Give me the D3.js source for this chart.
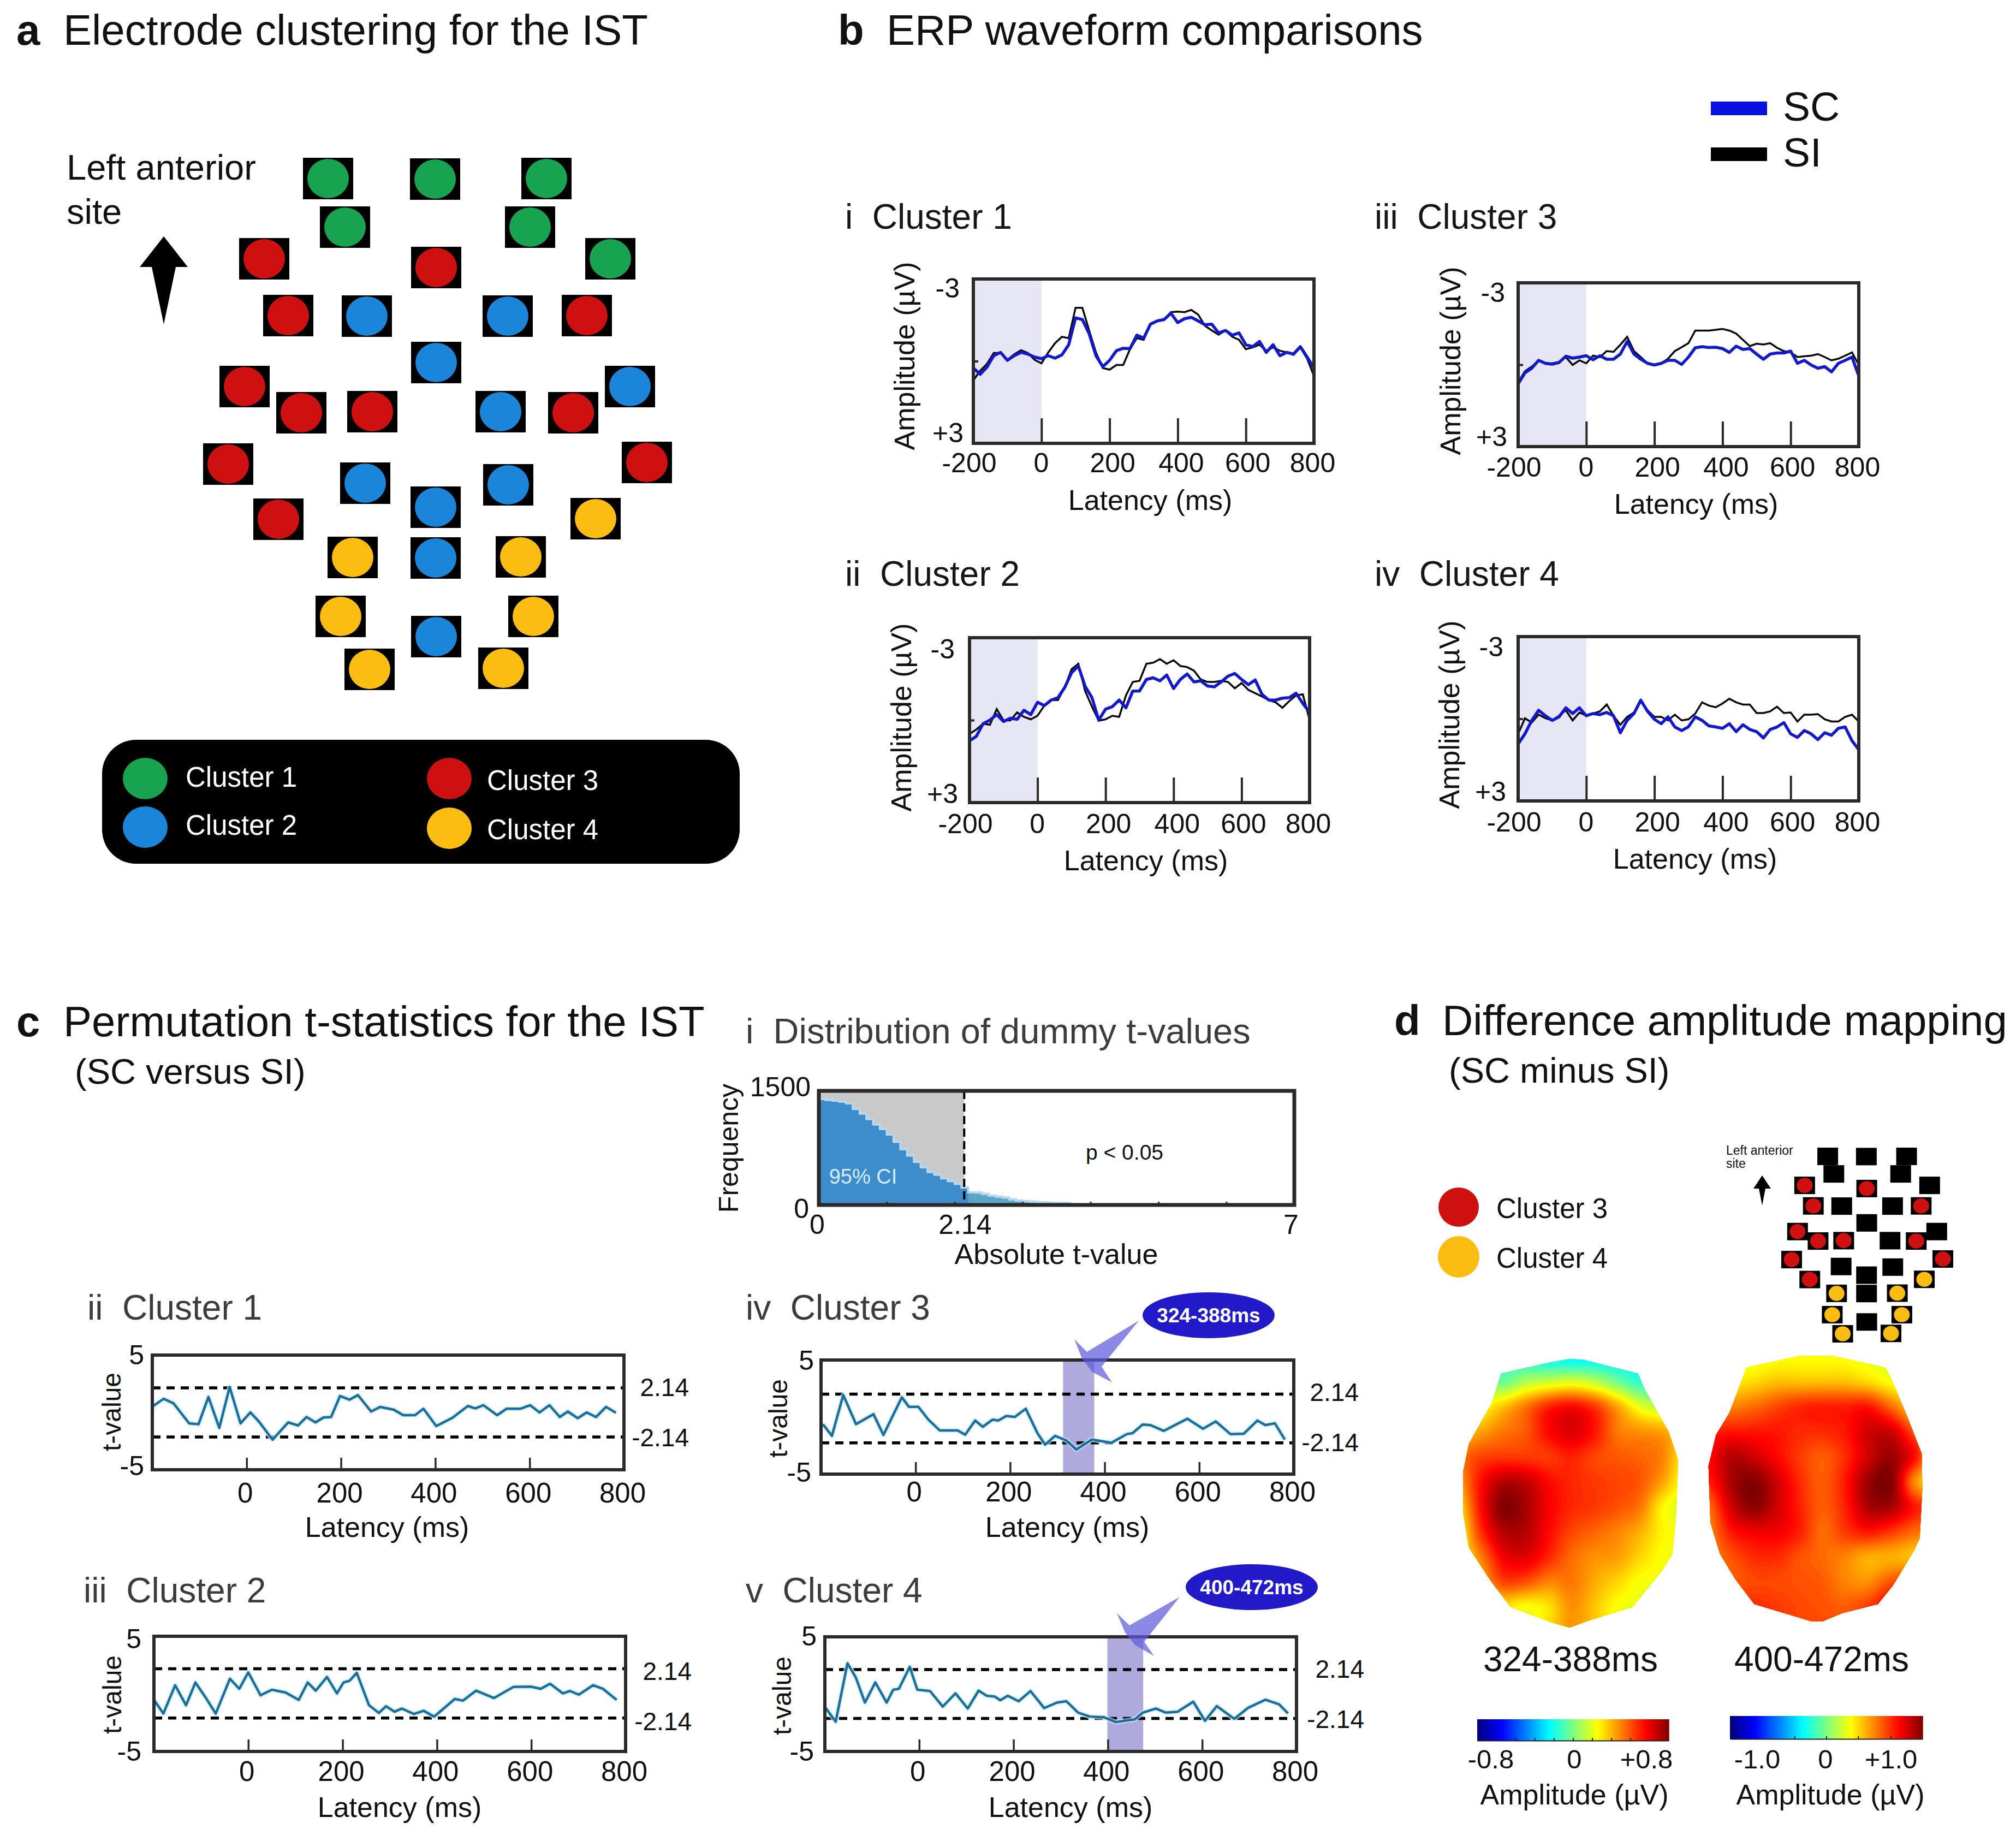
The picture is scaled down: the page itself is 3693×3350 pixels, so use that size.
<!DOCTYPE html>
<html><head><meta charset="utf-8">
<script src="https://cdn.jsdelivr.net/npm/d3@7"></script>
<style>html,body{margin:0;padding:0;background:#fff}svg{display:block}text{font-family:"Liberation Sans",Arial,sans-serif;white-space:pre}</style>
</head><body><svg id="c" width="3693" height="3350" viewBox="0 0 3693 3350"></svg>
<script>
// ---------- electrode sensor coordinates (arbitrary montage units) ----------
const cluster1X=[-198,-2,202,-167,172,319], cluster1Y=[0,1,0,89,89,147];
const cluster2X=[-127,131,0,355,118,-130,132,-1,-1,0], cluster2Y=[252,252,337,381,427,558,561,602,695,839];
const cluster3X=[-315,0,-271,276,-351,-247,-117,251,-381,386,-289], cluster3Y=[147,163,251,251,381,429,427,429,523,520,624];
const cluster4X=[292,-153,155,-175,178,-122,123], cluster4Y=[623,694,693,802,802,899,897];
const clusterColors=["#17a34f","#1b86d9","#cf1010","#fbbd12"];
const clusterNames=["Cluster 1","Cluster 2","Cluster 3","Cluster 4"];

// ---------- ERP waveforms, 20 ms grid, µV (negative up) ----------
const erpTimes=d3.range(-200,801,20);
const sc1=[.25,.48,.22,-.2,-.32,-.03,-.2,-.32,-.26,-.15,-.09,-.2,-.11,-.23,-.6,-1.58,-1.52,-1,-.2,.2,-.03,-.38,-.47,-.46,-.95,-.84,-1.35,-1.47,-1.52,-1.75,-1.41,-1.55,-1.6,-1.47,-1.33,-1.35,-1.03,-1.12,-.95,-1.03,-.6,-.53,-.72,-.32,-.6,-.2,-.32,-.26,-.53,-.15,.25];
const si1=[.7,.35,.1,-.3,-.3,-.05,-.25,-.4,-.3,-.05,.08,-.32,-.66,-.89,-.84,-1.95,-1.95,-1.12,-.32,.25,.31,.14,.14,-.44,-.84,-.78,-1.35,-1.47,-1.52,-1.79,-1.81,-1.79,-1.87,-1.7,-1.29,-1.12,-.97,-1.12,-.89,-.78,-.44,-.5,-.6,-.38,-.5,-.38,-.32,-.23,-.5,-.09,.54];
const sc2=[.75,.59,.13,0,-.2,.05,-.07,-.03,-.36,-.2,-.65,-.53,-.73,-.82,-1.19,-1.72,-1.97,-1.23,-.82,0,-.4,-.49,-.73,-.45,-1.06,-1.06,-1.48,-1.54,-1.43,-1.64,-1.15,-1.48,-1.68,-1.39,-1.43,-1.24,-1.21,-1.39,-1.6,-1.7,-1.48,-1.29,-1.46,-.94,-.73,-.73,-.8,-.82,-.98,-.61,-.28];
const si2=[.5,.34,.13,.17,-.4,.01,.01,-.28,-.12,-.03,-.16,-.53,-.73,-.73,-1.19,-1.85,-2.05,-1.06,-.49,.02,-.03,-.16,-.12,-.9,-1.39,-1.43,-2.05,-2.09,-2.22,-2.05,-2.18,-1.97,-1.93,-1.8,-1.48,-1.39,-1.39,-1.43,-1.39,-1.16,-1.35,-1.1,-.98,-.86,-.73,-.65,-.45,-.69,-.9,-.94,0];
const sc3=[.7,.3,.13,-.16,-.05,-.02,-.08,-.31,-.24,-.28,-.33,-.18,-.33,-.2,-.2,-.39,-.85,-.39,-.2,-.05,.01,-.05,-.16,-.16,-.01,-.28,-.62,-.66,-.63,-.64,-.59,-.45,-.68,-.56,-.59,-.39,-.2,-.39,-.43,-.43,-.5,-.05,-.16,.01,.13,.07,.26,-.05,-.16,-.28,.41];
const si3=[.64,.24,.07,-.16,-.05,-.05,-.1,-.28,.01,-.16,-.05,-.33,-.28,-.5,-.47,-.73,-1.02,-.5,-.28,-.05,.01,-.05,-.22,-.5,-.64,-.79,-1.25,-1.25,-1.25,-1.28,-1.31,-1.25,-1.14,-.91,-.68,-.77,-.74,-.79,-.62,-.5,-.45,-.28,-.31,-.33,-.39,-.28,-.16,-.22,-.33,-.45,.01];
const sc4=[.92,.55,.06,-.31,-.11,.06,-.07,-.4,-.19,-.4,-.11,-.19,-.15,-.23,-.11,.51,.06,-.19,-.68,-.27,.02,.18,-.07,.3,.43,.29,-.07,.06,.26,.3,.35,.18,.47,.22,.39,.47,.7,.39,.3,.14,.55,.68,.43,.55,.76,.51,.6,.35,.3,.8,1.13];
const si4=[.55,-.02,.14,-.15,-.02,.06,-.11,-.31,.06,-.23,-.11,-.19,-.27,-.52,-.11,.22,-.07,-.23,-.68,-.31,-.07,-.07,.06,-.15,.06,.02,-.19,-.6,-.48,-.42,-.56,-.73,-.6,-.52,-.52,-.21,-.21,-.27,-.44,-.21,-.23,.1,-.15,-.15,-.17,.02,.1,.1,-.07,-.15,.1];
const erpTickValues=[-200,0,200,400,600,800];

// ---------- dummy t-value histogram ----------
const histEdges=d3.range(0,38).map(i=>i/10);
const histCounts=[1380,1368,1356,1344,1320,1248,1188,1116,1044,984,912,816,720,636,552,480,420,384,336,300,264,216,151,149,132,108,96,84,60,43,36,30,24,20,15,12,10,8];
const histCritical=2.14;

// ---------- permutation t-statistics ----------
const t1Times=[-198,-176,-155,-122,-102,-81,-58,-36,-13,8,26,55,88,109,127,146,163,179,198,218,236,264,283,312,332,357,375,402,436,469,485,502,531,551,580,601,621,642,664,681,702,721,741,762,783];
const t1Values=[.56,1.19,.79,-.95,-1.03,1.35,-1.35,2.22,-.95,0,-.79,-2.38,-.87,-1.14,-.4,-.87,-.44,-.4,1.43,1.11,1.51,.08,.48,.24,-.24,-.24,.32,-1.19,-.48,.56,.35,.63,-.24,.32,.32,.63,0,.63,-.4,.08,-.51,0,-.4,.48,-.03];
const t2Times=[-200,-180,-155,-132,-112,-91,-69,-39,-19,0,26,50,79,107,126,143,167,188,202,215,230,256,277,292,310,326,351,372,394,438,455,483,521,562,599,620,640,667,682,701,731,752,781];
const t2Values=[-.56,-1.75,.71,-1.03,.95,-.32,-1.75,1.27,.4,1.83,-.16,.32,.08,-.56,.95,.24,1.43,0,.95,1.11,1.79,-1.03,-1.7,-1.11,-1.59,-1.32,-1.79,-1.51,-2.02,-.48,-.63,.24,-.4,.56,.59,.4,.84,0,.21,-.11,.71,.4,-.56];
const t3Times=[-196,-177,-153,-126,-89,-68,-29,-14,6,27,51,89,105,126,142,163,175,192,210,233,258,274,295,319,340,373,414,447,459,480,497,525,575,608,635,666,694,723,740,760,781];
const t3Values=[-.5,-1.53,2.06,-.5,.38,-1.45,1.86,1.02,1.02,-.1,-1.05,-1.05,-1.42,-.18,-.73,-.1,-.18,.22,.14,.86,-1.3,-2.3,-1.53,-1.93,-2.73,-1.85,-2.14,-1.37,-1.29,-.54,-.58,-1.09,-.02,-.9,-.26,-1.37,-1.34,-.18,-.58,-.42,-1.85];
const t4Times=[-198,-177,-152,-134,-115,-93,-69,-55,-43,-20,-4,23,50,77,103,126,143,160,172,188,211,236,265,292,312,337,362,391,417,457,474,502,523,548,581,606,631,668,697,734,763,782];
const t4Values=[-1.23,-2.43,2.7,1.42,-.75,1.02,-.75,.38,.46,2.38,.38,.26,-1.1,.06,-1.27,.3,-.15,-.22,-.54,-.15,-.63,.26,-1.23,-.75,-.63,-1.63,-1.98,-2.03,-2.46,-2.23,-1.63,-1.27,-1.63,-1.55,-.67,-2.35,-1.06,-2.18,-1.22,-.5,-.9,-1.7];
const latencyTicks=[0,200,400,600,800];
const tThreshold=2.14;

// ---------- difference amplitude maps: values on a coarse sampling lattice (µV) ----------
const mapAValues=[
[-.05,-.05,-.1,-.15,-.2,-.22,-.22,-.2,-.2,-.2,-.2],
[.1,.1,-.02,.08,.12,.15,.1,-.02,-.12,-.14,-.14],
[.2,.2,.3,.42,.55,.6,.52,.35,.17,.1,.1],
[.3,.35,.42,.47,.6,.66,.58,.42,.38,.35,.25],
[.42,.5,.52,.52,.52,.56,.5,.47,.45,.4,.22],
[.35,.58,.72,.7,.6,.55,.52,.5,.47,.35,.18],
[.25,.58,.8,.74,.62,.55,.52,.48,.42,.22,.15],
[.18,.52,.72,.72,.6,.5,.45,.4,.33,.22,.2],
[.2,.4,.62,.65,.55,.44,.38,.36,.27,.2,.2],
[.25,.32,.5,.48,.4,.42,.34,.27,.2,.2,.2],
[.2,.2,.25,.2,.25,.38,.3,.2,.18,.18,.18],
[.15,.15,.2,.2,.28,.37,.3,.2,.18,.18,.18]];
const mapBValues=[
[.2,.2,.22,.25,.25,.25,.25,.22,.2,.2,.2],
[.3,.3,.33,.38,.38,.38,.38,.33,.25,.22,.2],
[.5,.5,.55,.62,.68,.7,.7,.72,.55,.35,.3],
[.7,.72,.72,.72,.68,.68,.72,.85,.85,.6,.4],
[.75,.9,.85,.75,.65,.58,.68,.85,.95,.75,.35],
[.7,.92,1,.85,.68,.58,.72,.95,1,.5,.3],
[.55,.85,.98,.85,.7,.58,.7,.92,.92,.72,.6],
[.5,.72,.78,.78,.7,.55,.65,.72,.65,.55,.5],
[.5,.6,.68,.68,.6,.55,.5,.42,.42,.38,.35],
[.55,.58,.62,.62,.6,.58,.5,.48,.6,.65,.6],
[.65,.68,.68,.65,.62,.6,.58,.65,.8,.8,.7],
[.7,.7,.68,.65,.62,.62,.6,.65,.75,.75,.7]];
const jetStops=[0,.125,.375,.625,.875,1];
const jetColors=["#00007f","#0000ff","#00ffff","#ffff00","#ff0000","#7f0000"];

// ---------- drawing ----------
const svg=d3.select("#c");
const INK="#2a2a2a";
function txt(x,y,s,o={}){
  const t=svg.append("text").attr("x",x).attr("y",y).text(s)
    .attr("font-size",o.size||52).attr("fill",o.fill||"#111").attr("text-anchor",o.anchor||"start");
  if(o.weight)t.attr("font-weight",o.weight);
  if(o.mid)t.attr("dominant-baseline","central");
  if(o.rot)t.attr("transform",`rotate(${o.rot} ${x} ${y})`);
  return t;
}
function frame(g,x0,x1,y0,y1,w=6){g.append("rect").attr("x",x0).attr("y",y0).attr("width",x1-x0).attr("height",y1-y0).attr("fill","none").attr("stroke",INK).attr("stroke-width",w);}

// headings
const H=78;
txt(30,82,"a",{size:H,weight:"bold"});txt(116,82,"Electrode clustering for the IST",{size:H});
txt(1535,82,"b",{size:H,weight:"bold"});txt(1624,82,"ERP waveform comparisons",{size:H});
txt(30,1898,"c",{size:H,weight:"bold"});txt(116,1898,"Permutation t-statistics for the IST",{size:H});
txt(137,1985,"(SC versus SI)",{size:65});
txt(2554,1896,"d",{size:H,weight:"bold"});txt(2642,1896,"Difference amplitude mapping",{size:H});
txt(2654,1983,"(SC minus SI)",{size:65});

// electrodes
const montage=[[cluster1X,cluster1Y,0],[cluster2X,cluster2Y,1],[cluster3X,cluster3Y,2],[cluster4X,cluster4Y,3]]
  .flatMap(([X,Y,c])=>X.map((x,i)=>({x,y:Y[i],c})));
function drawMontage(rx,ry,sw,sh,cr,visible){
  const sx=d3.scaleLinear().domain([-381,386]).range(rx), sy=d3.scaleLinear().domain([0,899]).range(ry);
  const g=svg.append("g");
  g.selectAll("rect").data(montage).join("rect").attr("x",d=>sx(d.x)-sw/2).attr("y",d=>sy(d.y)-sh/2).attr("width",sw).attr("height",sh).attr("fill","#000");
  g.selectAll("ellipse").data(montage.filter(d=>visible.includes(d.c))).join("ellipse").attr("cx",d=>sx(d.x)).attr("cy",d=>sy(d.y)).attr("rx",cr).attr("ry",cr*.95).attr("fill",d=>clusterColors[d.c]);
}
drawMontage([418,1185],[327,1226],92,76,38,[0,1,2,3]);
drawMontage([3282,3559],[2118,2443],38,32,14.5,[2,3]);
function arrow(x,tip,w,wingY,bottom,inner){svg.append("path").attr("d",`M${x},${tip}L${x+w},${wingY}L${x+inner},${wingY}L${x},${bottom}L${x-inner},${wingY}L${x-w},${wingY}Z`).attr("fill","#000");}
txt(122,329,"Left anterior",{size:65});txt(122,410,"site",{size:65});
arrow(300,433,44,489,594,22);
txt(3162,2115,"Left anterior",{size:23});txt(3162,2139,"site",{size:23});
arrow(3228,2153,16,2177,2208,6);

// cluster legend a
svg.append("rect").attr("x",187).attr("y",1355).attr("width",1168).attr("height",227).attr("rx",62).attr("fill","#000");
[[266,1426,0,340,1423],[266,1515,1,340,1511],[823,1426,2,892,1429],[823,1517,3,892,1519]].forEach(([cx,cy,c,tx,ty])=>{
  svg.append("ellipse").attr("cx",cx).attr("cy",cy).attr("rx",41).attr("ry",38).attr("fill",clusterColors[c]);
  txt(tx,ty,clusterNames[c],{size:51,fill:"#fff",mid:true});
});

// SC/SI key
const SC_COLOR="#1418cc", SI_COLOR="#0a0a0a";
svg.append("rect").attr("x",3134).attr("y",186).attr("width",103).attr("height",25).attr("fill","#0a10e0");
svg.append("rect").attr("x",3134).attr("y",270).attr("width",103).attr("height",25).attr("fill","#000");
txt(3266,221,"SC",{size:75});txt(3266,305,"SI",{size:75});

// ERP panels
const erpPanels=[
 {title:"i  Cluster 1",tx:1548,ty:419,x:[1783,2407],y:[511,812],sc:sc1,si:si1,base:865,latX:2107,latY:934,ampX:1657,ampY:652,m3:[1758,528],p3:[1765,793]},
 {title:"ii  Cluster 2",tx:1548,ty:1073,x:[1776,2399],y:[1168,1470],sc:sc2,si:si2,base:1526,latX:2099,latY:1594,ampX:1651,ampY:1314,m3:[1749,1189],p3:[1755,1454]},
 {title:"iii  Cluster 3",tx:2518,ty:419,x:[2781,3405],y:[518,818],sc:sc3,si:si3,base:873,latX:3107,latY:941,ampX:2657,ampY:661,m3:[2757,536],p3:[2761,800]},
 {title:"iv  Cluster 4",tx:2518,ty:1073,x:[2781,3405],y:[1166,1467],sc:sc4,si:si4,base:1523,latX:3105,latY:1591,ampX:2655,ampY:1309,m3:[2754,1185],p3:[2759,1450]}];
const labelShift={"-200":-8,"0":-1,"200":5,"400":6,"600":3,"800":-3};
erpPanels.forEach(p=>{
  const x=d3.scaleLinear().domain([-200,800]).range(p.x), y=d3.scaleLinear().domain([-3,3]).range(p.y);
  const g=svg.append("g");
  g.append("rect").attr("x",x(-200)).attr("y",y(-3)).attr("width",x(0)-x(-200)).attr("height",y(3)-y(-3)).attr("fill","#e6e6f4");
  const ax=g.append("g").attr("transform",`translate(0,${p.y[1]})`).call(d3.axisBottom(x).tickValues(erpTickValues).tickSizeInner(-46).tickSizeOuter(0).tickFormat(d=>String(d)));
  ax.select(".domain").remove();
  ax.selectAll(".tick line").attr("stroke",INK).attr("stroke-width",4).attr("display",d=>(d==-200||d==800)?"none":null);
  ax.selectAll(".tick text").attr("y",p.base-p.y[1]).attr("dy",0).attr("dx",d=>labelShift[d]).attr("font-size",50).attr("font-family",null).attr("fill","#111");
  const ay=g.append("g").attr("transform",`translate(${p.x[0]},0)`).call(d3.axisLeft(y).tickValues([0]).tickSizeInner(-9).tickSizeOuter(0).tickFormat(""));
  ay.select(".domain").remove();ay.selectAll("line").attr("stroke",INK).attr("stroke-width",4);
  const line=d3.line().x((d,i)=>x(erpTimes[i])).y(d=>y(d));
  g.append("path").datum(p.si).attr("d",line).attr("fill","none").attr("stroke",SI_COLOR).attr("stroke-width",3.5);
  g.append("path").datum(p.sc).attr("d",line).attr("fill","none").attr("stroke",SC_COLOR).attr("stroke-width",5.5).attr("stroke-linejoin","round");
  frame(g,p.x[0],p.x[1],p.y[0],p.y[1],6);
  txt(p.tx,p.ty,p.title,{size:64,fill:"#161616"});
  txt(p.latX,p.latY,"Latency (ms)",{size:52,anchor:"middle"});
  txt(p.ampX,p.ampY,"Amplitude (µV)",{size:52,anchor:"middle",mid:true,rot:-90});
  txt(p.m3[0],p.m3[1],"-3",{size:50,anchor:"end",mid:true});
  txt(p.p3[0],p.p3[1],"+3",{size:50,anchor:"end",mid:true});
});

// histogram
(function(){
  const x=d3.scaleLinear().domain([0,7]).range([1500,2371]), y=d3.scaleLinear().domain([0,1500]).range([2207,1998]);
  const g=svg.append("g");
  g.append("rect").attr("x",x(0)).attr("y",y(1500)).attr("width",x(histCritical)-x(0)).attr("height",y(0)-y(1500)).attr("fill","#c9c9c9");
  g.selectAll("rect.bar").data(histCounts).join("rect").attr("class","bar")
    .attr("x",(d,i)=>x(histEdges[i])).attr("width",(d,i)=>x(.1)-x(0)+.6).attr("y",d=>y(d)).attr("height",d=>y(0)-y(d))
    .attr("fill",(d,i)=>histEdges[i]<histCritical?"#3d8ccb":"#5ca5c6");
  const edge=d3.line().curve(d3.curveStepAfter).x((d,i)=>x(histEdges[i])).y(d=>y(d)-2);
  g.append("path").datum(histCounts).attr("d",edge).attr("fill","none").attr("stroke","#b5d8ee").attr("stroke-width",4);
  const ax=g.append("g").attr("transform",`translate(0,${y(0)})`).call(d3.axisBottom(x).tickValues([1,2,3,4,5,6]).tickSizeInner(-6).tickSizeOuter(0).tickFormat(""));
  ax.select(".domain").remove();ax.selectAll("line").attr("stroke",INK).attr("stroke-width",3);
  g.append("line").attr("x1",x(histCritical)).attr("x2",x(histCritical)).attr("y1",y(1500)).attr("y2",y(0)).attr("stroke","#000").attr("stroke-width",4).attr("stroke-dasharray","15 8");
  frame(g,1500,2371,1998,2207,7);
  txt(1366,1911,"i  Distribution of dummy t-values",{size:65,fill:"#3c3c3c"});
  txt(1485,1991,"1500",{size:50,anchor:"end",mid:true});txt(1482,2214,"0",{size:50,anchor:"end",mid:true});
  txt(1497,2260,"0",{size:50,anchor:"middle"});txt(1768,2260,"2.14",{size:50,anchor:"middle"});txt(2365,2260,"7",{size:50,anchor:"middle"});
  txt(1935,2315,"Absolute t-value",{size:52,anchor:"middle"});
  txt(1335,2103,"Frequency",{size:50,anchor:"middle",mid:true,rot:-90});
  txt(2060,2110,"p < 0.05",{size:39,anchor:"middle",mid:true});
  txt(1581,2155,"95% CI",{size:38,anchor:"middle",mid:true,fill:"#d4ecfa"});
})();

// t-statistic panels
const tPanels=[
 {title:"ii  Cluster 1",tx:160,ty:2417,x:[279,1143],y:[2482,2692],dom:[5,-5],t:t1Times,v:t1Values,fiveR:264,fiveY:2482,mfiveR:264,mfiveY:2685,tvX:204,tvY:2586,base:2752,latX:709,latY:2815,rR:1262,rY:[2541,2633]},
 {title:"iii  Cluster 2",tx:153,ty:2935,x:[282,1146],y:[2997,3208],dom:[4.97,-5.05],t:t2Times,v:t2Values,fiveR:259,fiveY:3002,mfiveR:259,mfiveY:3208,tvX:205,tvY:3104,base:3262,latX:732,latY:3328,rR:1267,rY:[3061,3153]},
 {title:"iv  Cluster 3",tx:1366,ty:2417,x:[1504,2370],y:[2491,2700],dom:[5.14,-4.89],t:t3Times,v:t3Values,fiveR:1491,fiveY:2492,mfiveR:1486,mfiveY:2697,tvX:1425,tvY:2598,base:2750,latX:1955,latY:2815,rR:2489,rY:[2550,2642],band:[312,378],lab:"324-388ms",bub:[2214,2409],tail:[[2086,2419],[1991,2476],[1968,2453],[1982,2488],[2001,2513],[2037,2532],[2018,2503]]},
 {title:"v  Cluster 4",tx:1366,ty:2935,x:[1511,2375],y:[2998,3208],dom:[5.02,-5.04],t:t4Times,v:t4Values,fiveR:1496,fiveY:2997,mfiveR:1491,mfiveY:3208,tvX:1432,tvY:3106,base:3262,latX:1961,latY:3328,rR:2499,rY:[3057,3149],band:[399,475],lab:"400-472ms",bub:[2293,2907],tail:[[2161,2925],[2069,2977],[2046,2955],[2061,2990],[2079,3013],[2114,3033],[2096,3007]]}];
tPanels.forEach(p=>{
  const x=d3.scaleLinear().domain([-200,800]).range(p.x), y=d3.scaleLinear().domain(p.dom).range(p.y);
  const g=svg.append("g");
  if(p.band)g.append("rect").attr("x",x(p.band[0])).attr("width",x(p.band[1])-x(p.band[0])).attr("y",p.y[0]).attr("height",p.y[1]-p.y[0]).attr("fill","#aeaadd");
  [tThreshold,-tThreshold].forEach(v=>g.append("line").attr("x1",p.x[0]).attr("x2",p.x[1]).attr("y1",y(v)).attr("y2",y(v)).attr("stroke","#000").attr("stroke-width",5.5).attr("stroke-dasharray","15 11"));
  const ax=g.append("g").attr("transform",`translate(0,${p.y[1]})`).call(d3.axisBottom(x).tickValues(latencyTicks).tickSizeInner(-22).tickSizeOuter(0).tickFormat(d=>String(d)));
  ax.select(".domain").remove();
  ax.selectAll(".tick line").attr("stroke",INK).attr("stroke-width",3.5).attr("display",d=>d==800?"none":null);
  ax.selectAll(".tick text").attr("y",p.base-p.y[1]).attr("dy",0).attr("dx",-3).attr("font-size",51).attr("font-family",null).attr("fill","#111");
  const line=d3.line().x((d,i)=>x(p.t[i])).y(d=>y(d));
  g.append("path").datum(p.v).attr("d",line).attr("fill","none").attr("stroke","#c9ecf7").attr("stroke-width",9).attr("stroke-opacity",.7).attr("stroke-linejoin","round");
  g.append("path").datum(p.v).attr("d",line).attr("fill","none").attr("stroke","#1c6d9c").attr("stroke-width",4.5).attr("stroke-linejoin","round");
  frame(g,p.x[0],p.x[1],p.y[0],p.y[1],6);
  txt(p.tx,p.ty,p.title,{size:64,fill:"#3c3c3c"});
  txt(p.fiveR,p.fiveY,"5",{size:50,anchor:"end",mid:true});
  txt(p.mfiveR,p.mfiveY,"-5",{size:50,anchor:"end",mid:true});
  txt(p.tvX,p.tvY,"t-value",{size:48,anchor:"middle",mid:true,rot:-90});
  txt(p.latX,p.latY,"Latency (ms)",{size:52,anchor:"middle"});
  txt(p.rR,p.rY[0],"2.14",{size:46,anchor:"end",mid:true});
  txt(p.rR,p.rY[1],"-2.14",{size:46,anchor:"end",mid:true});
  if(p.tail){
    svg.append("polygon").attr("points",p.tail.join(" ")).attr("fill","#5f5bdc").attr("fill-opacity",.72);
    svg.append("ellipse").attr("cx",p.bub[0]).attr("cy",p.bub[1]).attr("rx",121).attr("ry",42).attr("fill","#2219c8");
    txt(p.bub[0],p.bub[1],p.lab,{size:37,anchor:"middle",mid:true,fill:"#fff",weight:"bold"});
  }
});

// d legend
txt(2741,2213,"Cluster 3",{size:51,mid:true});txt(2741,2304,"Cluster 4",{size:51,mid:true});
svg.append("ellipse").attr("cx",2672).attr("cy",2211).attr("rx",37).attr("ry",36).attr("fill","#cf1010");
svg.append("ellipse").attr("cx",2672).attr("cy",2302).attr("rx",38).attr("ry",38).attr("fill","#fbbd12");

// topographies
const pageX=d3.scaleLinear().domain([0,1568]).range([2600,3693]), pageY=d3.scaleLinear().domain([0,1568]).range([2450,3350]);
const jet=lim=>d3.scaleLinear().domain(jetStops.map(s=>-lim+2*lim*s)).range(jetColors).clamp(true);
function spline(v){const n=v.length;return t=>{const u=t*(n-1),i=Math.min(Math.floor(u),n-2),f=u-i,a=v[Math.max(i-1,0)],b=v[i],c=v[i+1],d=v[Math.min(i+2,n-1)];
  return .5*(2*b+(c-a)*f+(2*a-5*b+4*c-d)*f*f+(3*b-a-3*c+d)*f*f*f);};}
const maps=[
 {id:"mapA",values:mapAValues,lim:.8,gx:[100,700],outline:[[395,68],[430,70],[575,115],[590,160],[620,225],[655,300],[680,390],[675,560],[665,690],[640,740],[560,860],[440,905],[395,925],[350,910],[240,860],[190,780],[130,670],[115,560],[115,430],[130,340],[155,285],[190,210],[215,115],[340,80]]},
 {id:"mapB",values:mapBValues,lim:1,gx:[760,1360],outline:[[1040,52],[1085,58],[1225,95],[1240,130],[1280,245],[1320,370],[1322,480],[1315,640],[1300,680],[1245,790],[1205,850],[1110,880],[1060,905],[1030,905],[880,850],[830,770],[790,690],[765,590],[760,410],[780,310],[815,240],[860,95],[1000,58]]}];
const GW=150,GH=190;
maps.forEach(m=>{
  const rows=m.values.map(r=>spline(r));
  const grid=new Float64Array(GW*GH);
  for(let i=0;i<GW;i++){
    const col=spline(rows.map(f=>f(i/(GW-1))));
    for(let j=0;j<GH;j++)grid[j*GW+i]=col(j/(GH-1));
  }
  svg.append("clipPath").attr("id",m.id).append("polygon").attr("points",m.outline.map(([a,b])=>[pageX(a),pageY(b)]).join(" "));
  const X=d3.scaleLinear().domain([.5,GW-.5]).range(m.gx.map(pageX)), Y=d3.scaleLinear().domain([.5,GH-.5]).range([60,940].map(pageY));
  const path=d3.geoPath(d3.geoTransform({point(a,b){this.stream.point(X(a),Y(b));}}));
  const lo=d3.min(grid), hi=d3.max(grid), color=jet(m.lim);
  const cs=d3.contours().size([GW,GH]).smooth(true).thresholds(d3.range(lo-.001,hi,m.lim/60))(Array.from(grid));
  svg.append("g").attr("clip-path",`url(#${m.id})`).selectAll("path").data(cs).join("path").attr("d",path).attr("fill",d=>color(d.value));
});
txt(2877,3061,"324-388ms",{size:64,anchor:"middle"});txt(3337,3061,"400-472ms",{size:64,anchor:"middle"});

// colour bars
const bars=[
 {lim:.8,x:[2706,3057],y:[3149,3188],ticks:[-.48,-.32,-.16,0,.16,.32,.48],labels:[["-0.8",2731],["0",2884],["+0.8",3016]],ampX:2884},
 {lim:1,x:[3169,3522],y:[3143,3185],ticks:[-.33,0,.33,.67],labels:[["-1.0",3219],["0",3344],["+1.0",3464]],ampX:3353}];
bars.forEach(b=>{
  const s=d3.scaleLinear().domain([-b.lim,b.lim]).range(b.x), color=jet(b.lim);
  const steps=d3.range(0,140).map(i=>-b.lim+2*b.lim*i/140);
  svg.append("g").selectAll("rect").data(steps).join("rect").attr("x",d=>s(d)).attr("y",b.y[0]).attr("width",(b.x[1]-b.x[0])/140+.7).attr("height",b.y[1]-b.y[0]).attr("fill",d=>color(d));
  const ax=svg.append("g").attr("transform",`translate(0,${b.y[1]})`).call(d3.axisBottom(s).tickValues(b.ticks).tickSizeInner(-5).tickSizeOuter(0).tickFormat(""));
  ax.select(".domain").attr("stroke","#222").attr("stroke-width",2);ax.selectAll("line").attr("stroke","#222").attr("stroke-width",2);
  b.labels.forEach(([l,x])=>txt(x,3239,l,{size:49,anchor:"middle"}));
  txt(b.ampX,3305,"Amplitude (µV)",{size:52,anchor:"middle"});
});
</script></body></html>
